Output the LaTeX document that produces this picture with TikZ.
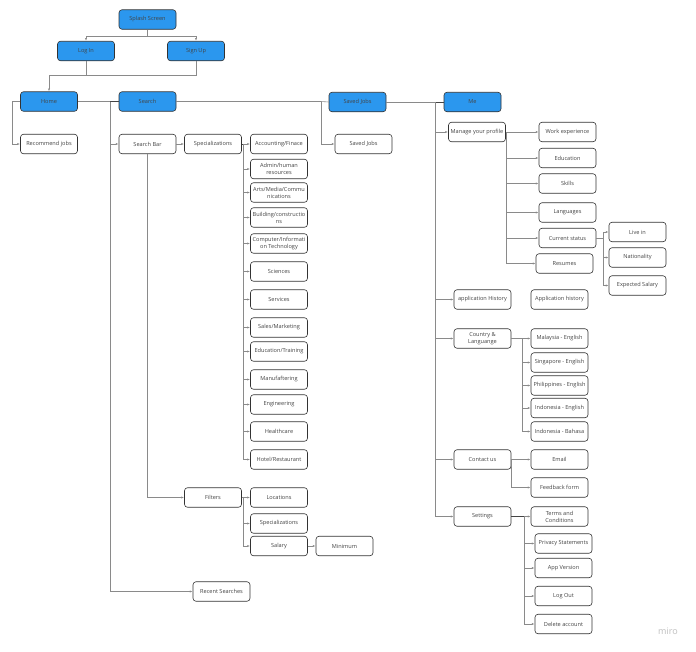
\documentclass[tikz,border=0pt]{standalone}
\usepackage{fontspec}
\setmainfont{Open Sans}
\usetikzlibrary{arrows.meta}
\definecolor{mblue}{HTML}{2B97EE}
\definecolor{bord}{HTML}{333333}
\definecolor{lgray}{HTML}{8A8A8A}
\definecolor{dgray}{HTML}{444444}
\begin{document}
\begin{tikzpicture}[x=1pt,y=-1pt,
  box/.style={draw=bord,line width=0.6pt,rounded corners=3pt,fill=white,
    minimum width=57pt,minimum height=19.5pt,inner sep=0pt,align=center,
    font=\fontsize{5.6}{6.8}\selectfont,text=dgray},
  bbox/.style={box,fill=mblue},
  line/.style={draw=lgray,line width=0.6pt},
  dline/.style={draw=dgray,line width=0.8pt},
  arr/.style={line,-{Latex[length=2.6pt,width=2.2pt]},shorten >=0.3pt},
]
\fill[white] (0,0) rectangle (696,651);
\useasboundingbox (0,0) rectangle (696,651);

% top
\node[bbox] (splash) at (147.5,19.5) {Splash Screen};
\node[bbox] (login) at (86,51) {Log In};
\node[bbox] (signup) at (196,51) {Sign Up};
\node[bbox] (home) at (49,101.5) {Home};
\node[bbox] (search) at (147.5,101.5) {Search};
\node[bbox] (saved) at (357.5,102) {Saved Jobs};
\node[bbox] (me) at (472.5,102) {Me};

% home / search
\node[box] (recommend) at (49,144) {Recommend jobs};
\node[box] (searchbar) at (147.5,144) {Search Bar};
\node[box] (spec) at (213,144) {Specializations};
\node[box] (acc) at (279,144) {Accounting/Finace};
\node[box] (admin) at (279,169) {Admin/human\\resources};
\node[box] (arts) at (279,192.5) {Arts/Media/Commu\\nications};
\node[box] (build) at (279,217.5) {Building/constructio\\ns};
\node[box] (comp) at (279,243.5) {Computer/Informati\\on Technology};
\node[box] (sci) at (279,271.5) {Sciences};
\node[box] (serv) at (279,299.5) {Services};
\node[box] (sales) at (279,327.5) {Sales/Marketing};
\node[box] (edu) at (279,351.5) {Education/Training};
\node[box] (manu) at (279,379.5) {Manufaftering};
\node[box] (eng) at (279,404.5) {Engineering};
\node[box] (health) at (279,431.5) {Healthcare};
\node[box] (hotel) at (279,459.5) {Hotel/Restaurant};
\node[box] (filters) at (213,497.5) {Filters};
\node[box] (loc) at (279,497.5) {Locations};
\node[box] (fspec) at (279,523.5) {Specializations};
\node[box] (salary) at (279,546) {Salary};
\node[box] (minimum) at (344.5,546) {Minimum};
\node[box] (recent) at (221.5,591.5) {Recent Searches};

% saved
\node[box] (savedw) at (363.5,144) {Saved Jobs};

% me
\node[box] (manage) at (477,132) {Manage your profile};
\node[box] (work) at (567.5,132) {Work experience};
\node[box] (educ) at (567.5,158) {Education};
\node[box] (skills) at (567.5,183.5) {Skills};
\node[box] (lang) at (567.5,212.5) {Languages};
\node[box] (cstatus) at (567.5,238) {Current status};
\node[box] (resumes) at (564.5,263.5) {Resumes};
\node[box] (livein) at (637.5,232) {Live in};
\node[box] (nation) at (637.5,257.5) {Nationality};
\node[box] (expsal) at (637.5,285.5) {Expected Salary};
\node[box] (apph) at (482.5,299.5) {application History};
\node[box] (apph2) at (559.5,299.5) {Application history};
\node[box] (country) at (482.5,338.5) {Country \&\\Languange};
\node[box] (my) at (559.5,338.5) {Malaysia - English};
\node[box] (sg) at (559.5,362.5) {Singapore - English};
\node[box] (ph) at (559.5,385.5) {Philippines - English};
\node[box] (ide) at (559.5,408) {Indonesia - English};
\node[box] (idb) at (559.5,431.5) {Indonesia - Bahasa};
\node[box] (contact) at (482.5,459.5) {Contact us};
\node[box] (email) at (559.5,459.5) {Email};
\node[box] (feedback) at (559.5,487.5) {Feedback form};
\node[box] (settings) at (482.5,516.5) {Settings};
\node[box] (terms) at (559.5,516.5) {Terms and\\Conditions};
\node[box] (privacy) at (563.5,543.5) {Privacy Statements};
\node[box] (appv) at (563.5,568) {App Version};
\node[box] (logout) at (563.5,596) {Log Out};
\node[box] (delete) at (563.5,624) {Delete account};

\node[text=black!25,font=\fontsize{9}{9}\selectfont] (miro) at (668,631) {miro};

% connectors
\coordinate (j1) at (147.5,36);
\draw[line] (splash.south) -- (j1);
\draw[arr] (j1) -| (login.north);
\draw[arr] (j1) -| (signup.north);

\coordinate (j2) at (86,75.5);
\draw[line] (login.south) -- (j2);
\draw[line] (signup.south) |- (j2);
\draw[arr] (j2) -| (home.north);

\coordinate (h1) at (12,101.5);
\draw[line] (home.west) -- (h1);
\draw[arr] (h1) |- (recommend.west);

\coordinate (sv) at (110,101.5);
\draw[line] (home.east) -- (sv);
\draw[dline] (search.west) -- (sv);
\draw[dline] (sv) -- (110,591.5);
\draw[arr] (sv) |- (searchbar.west);
\draw[arr] (sv) |- (recent.west);

\coordinate (sj) at (321,101.5);
\draw[line] (search.east) -- (sj);
\draw[line] (saved.west) -- (sj);
\draw[arr] (sj) |- (savedw.west);

\coordinate (mv) at (435,102);
\draw[line] (saved.east) -- (mv);
\draw[dline] (me.west) -- (mv);
\draw[dline] (mv) -- (435,516.5);
\draw[arr] (mv) |- (manage.west);
\draw[arr] (mv) |- (apph.west);
\draw[arr] (mv) |- (country.west);
\draw[arr] (mv) |- (contact.west);
\draw[arr] (mv) |- (settings.west);

\draw[arr] (manage.east) -- (work.west);
\draw[arr] (manage.east) |- (educ.west);
\draw[arr] (manage.east) |- (skills.west);
\draw[arr] (manage.east) |- (lang.west);
\draw[arr] (manage.east) |- (cstatus.west);
\draw[arr] (manage.east) |- (resumes.west);

\coordinate (cs) at (603,238);
\draw[line] (cstatus.east) -- (cs);
\draw[arr] (cs) |- (livein.west);
\draw[arr] (cs) |- (nation.west);
\draw[arr] (cs) |- (expsal.west);

\coordinate (cl) at (522,338.5);
\draw[arr] (country.east) -- (my.west);
\draw[arr] (cl) |- (sg.west);
\draw[arr] (cl) |- (ph.west);
\draw[arr] (cl) |- (ide.west);
\draw[arr] (cl) |- (idb.west);

\draw[arr] (contact.east) -- (email.west);
\draw[arr] (contact.east) |- (feedback.west);

\coordinate (st) at (524,516.5);
\draw[dline] (settings.east) -- (st);
\draw[arr] (st) -- (terms.west);
\draw[arr] (st) |- (privacy.west);
\draw[arr] (st) |- (appv.west);
\draw[arr] (st) |- (logout.west);
\draw[arr] (st) |- (delete.west);

\draw[arr] (searchbar.east) -- (spec.west);
\draw[arr] (searchbar.south) |- (filters.west);

\coordinate (sp) at (243,144);
\draw[dline] (spec.east) -- (sp) -- (243,459.5);
\draw[arr] (sp) -- (acc.west);
\foreach \n in {admin,arts,build,comp,sci,serv,sales,edu,manu,eng,health,hotel}
  \draw[arr] (sp) |- (\n.west);

\coordinate (fp) at (243,497.5);
\draw[line] (filters.east) -- (fp);
\draw[arr] (fp) -- (loc.west);
\draw[arr] (fp) |- (fspec.west);
\draw[arr] (fp) |- (salary.west);
\draw[arr] (salary.east) -- (minimum.west);
\end{tikzpicture}
\end{document}
